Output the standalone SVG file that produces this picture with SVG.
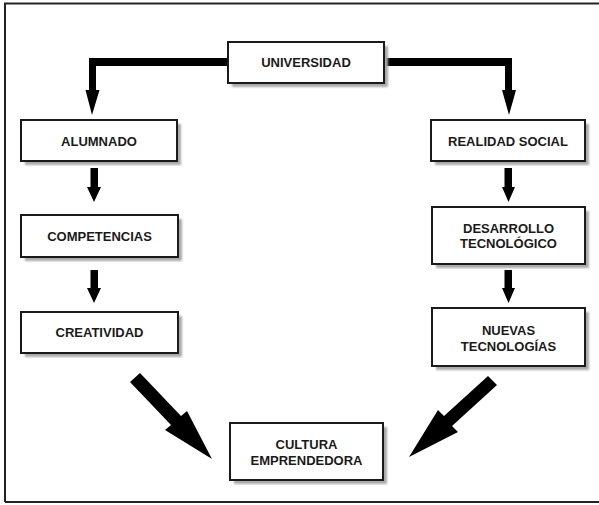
<svg xmlns="http://www.w3.org/2000/svg" width="599" height="505" viewBox="0 0 599 505">
<defs>
<style>
.box{fill:#fff;stroke:#1a1a1a;stroke-width:2}
.sh{fill:#a8a8a8}
.t{font-family:"Liberation Sans",Arial,sans-serif;font-weight:bold;font-size:13px;fill:#1a1a1a;text-anchor:middle}
.ar{fill:#000}
</style>
<filter id="blur" x="-10%" y="-10%" width="130%" height="130%"><feGaussianBlur stdDeviation="1"/></filter>
</defs>
<rect x="0" y="0" width="599" height="505" fill="#fff"/>
<path d="M5,502 V3.5 H599 M5,502 H599" fill="none" stroke="#222" stroke-width="2"/>
<g id="connectors">
<polygon class="ar" points="229,58 89,58 89,90 85.5,90 92,115 99.5,90 96,90 96,66 229,66"/>
<polygon class="ar" points="385,58 512,58 512,90 516,90 509,115 502,90 505,90 505,66 385,66"/>
<polygon class="ar" points="90.5,168 98,168 98,187 101,187 94,202 87,187 90.5,187"/>
<polygon class="ar" points="90.5,270 98,270 98,288 101,288 94,303 87,288 90.5,288"/>
<polygon class="ar" points="504.5,168 512,168 512,187 515,187 508.5,202 502,187 504.5,187"/>
<polygon class="ar" points="504.5,270 512,270 512,288 515,288 508.5,303 502,288 504.5,288"/>
<polygon class="ar" points="130,382 171,425 165,430 212,459 187,411 181,416 140,373"/>
<polygon class="ar" points="488,376 444,416 438,410 409,457 458,432 452,426 497,385"/>
</g>
<g id="universidad">
<rect class="sh" x="232" y="46" width="156" height="41" filter="url(#blur)"/>
<rect class="box" x="228" y="42" width="156" height="41"/>
<text class="t" x="306" y="67">UNIVERSIDAD</text>
</g>
<g id="alumnado">
<rect class="sh" x="25" y="124" width="156" height="41" filter="url(#blur)"/>
<rect class="box" x="21" y="120" width="156" height="41"/>
<text class="t" x="99" y="145.5">ALUMNADO</text>
</g>
<g id="competencias">
<rect class="sh" x="25" y="219" width="157" height="42" filter="url(#blur)"/>
<rect class="box" x="21" y="215" width="157" height="42"/>
<text class="t" x="99.5" y="240.5">COMPETENCIAS</text>
</g>
<g id="creatividad">
<rect class="sh" x="25" y="316" width="157" height="41" filter="url(#blur)"/>
<rect class="box" x="21" y="312" width="157" height="41"/>
<text class="t" x="99.5" y="337">CREATIVIDAD</text>
</g>
<g id="realidad">
<rect class="sh" x="435" y="124" width="154" height="41" filter="url(#blur)"/>
<rect class="box" x="431" y="120" width="154" height="41"/>
<text class="t" x="508" y="145.5">REALIDAD SOCIAL</text>
</g>
<g id="desarrollo">
<rect class="sh" x="436" y="211" width="153" height="57" filter="url(#blur)"/>
<rect class="box" x="432" y="207" width="153" height="57"/>
<text class="t" x="508.5" y="232.5">DESARROLLO</text>
<text class="t" x="508.5" y="248">TECNOLÓGICO</text>
</g>
<g id="nuevas">
<rect class="sh" x="436" y="312" width="153" height="58" filter="url(#blur)"/>
<rect class="box" x="432" y="308" width="153" height="58"/>
<text class="t" x="508.5" y="335">NUEVAS</text>
<text class="t" x="508.5" y="350.5">TECNOLOGÍAS</text>
</g>
<g id="cultura">
<rect class="sh" x="234" y="427" width="153" height="57" filter="url(#blur)"/>
<rect class="box" x="230" y="423" width="153" height="57"/>
<text class="t" x="306.5" y="449">CULTURA</text>
<text class="t" x="306.5" y="465">EMPRENDEDORA</text>
</g>
</svg>
